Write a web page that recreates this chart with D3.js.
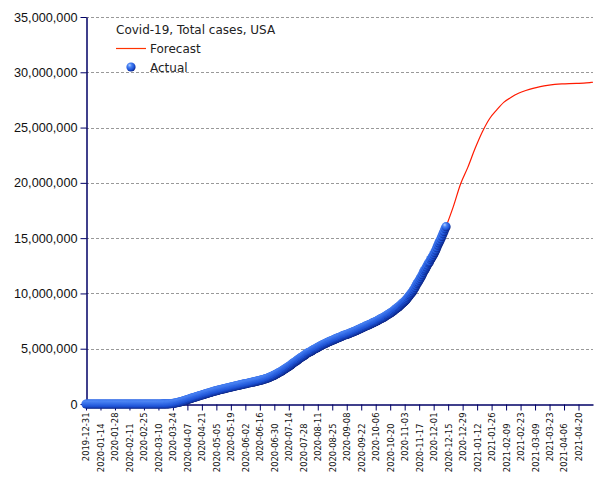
<!DOCTYPE html>
<html>
<head>
<meta charset="utf-8">
<script src="https://cdn.jsdelivr.net/npm/d3@7"></script>
<style>
  html, body { margin: 0; padding: 0; background: #fff; }
  svg { display: block; }
</style>
</head>
<body>
<svg id="chart" width="605" height="480"></svg>
<script>
// ---------------- DATA ----------------
const chartTitle = "Covid-19, Total cases, USA";
const seriesNames = ["Forecast", "Actual"];
const actualStart = "2019-12-31";

// Daily cumulative cases (actual), per month
const cases2019Dec = [0];
const cases2020Jan = [0,0,0,0,0,0,0,0,0,0,0,0,0,0,0,0,0,0,0,0,1,1,1,2,2,5,5,5,5,5,6];
const cases2020Feb = [7,8,11,11,11,12,12,12,12,12,13,13,14,15,15,15,15,15,15,15,35,35,35,53,53,59,60,62,68];
const cases2020Mar = [75,100,124,158,221,319,435,541,704,994,1301,1630,2183,2770,3613,4596,6344,9197,13779,19367,24192,33592,43781,54856,68211,85435,104126,124665,143025,164620,189618];
const cases2020Apr = [216721,245540,277965,312237,337072,366667,396223,429052,461437,496535,526396,555313,580619,607670,636350,667801,699706,732197,759086,784326,811865,840351,869170,905358,938154,965785,988197,1012582,1039909,1069424];
const cases2020May = [1103461,1132539,1158040,1180375,1204351,1228603,1256972,1283929,1309550,1329260,1347881,1369376,1390406,1417774,1442824,1467820,1486757,1508308,1528568,1551853,1577147,1600937,1622612,1643499,1662302,1681212,1699933,1721750,1747087,1770165,1790191];
const cases2020Jun = [1811370,1831821,1851520,1872660,1897838,1920061,1938823,1956421,1973797,1994283,2016027,2039926,2065187,2090175,2107922,2127667,2151958,2178316,2206143,2239176,2265163,2296352,2324153,2362340,2400071,2440435,2482102,2526118,2566268,2606484];
const cases2020Jul = [2658307,2708975,2763382,2819005,2864096,2914434,2967081,3030911,3088938,3158146,3219002,3280054,3339952,3402799,3470033,3537104,3614686,3686302,3750719,3811928,3874174,3943296,4013232,4081536,4153054,4218096,4272887,4330349,4397024,4465465,4534164];
const cases2020Aug = [4601526,4654924,4701345,4750262,4804040,4857935,4918927,4975825,5021155,5068063,5116922,5171325,5223018,5280044,5333329,5376000,5416000,5459000,5506000,5550000,5598000,5642000,5684000,5717000,5756000,5794000,5838000,5884000,5928000,5964000,5998000];
const cases2020Sep = [6035000,6074000,6114000,6163000,6207000,6238000,6265000,6291000,6325000,6361000,6408000,6443000,6479000,6514000,6553000,6592000,6636000,6680000,6727000,6766000,6805000,6856000,6895000,6940000,6986000,7035000,7070000,7107000,7148000,7191000];
const cases2020Oct = [7235000,7283000,7332000,7380000,7416000,7460000,7505000,7555000,7613000,7671000,7718000,7762000,7805000,7856000,7918000,7982000,8051000,8105000,8154000,8215000,8274000,8337000,8413000,8497000,8576000,8636000,8710000,8784000,8863000,8952000,9052000];
const cases2020Nov = [9134000,9211000,9300000,9392000,9493000,9613000,9741000,9868000,9971000,10095000,10231000,10374000,10535000,10717000,10888000,11023000,11181000,11342000,11510000,11694000,11890000,12072000,12209000,12386000,12560000,12741000,12852000,13058000,13213000,13353000];
const cases2020Dec = [13520000,13711000,13912000,14130000,14359000,14572000,14748000,14940000,15160000,15387000,15607000,15839000,16040000];

// Forecast (dates and values)
const forecastDates = ["2020-12-13","2020-12-20","2020-12-27","2021-01-03","2021-01-10","2021-01-17","2021-01-24","2021-01-31","2021-02-07","2021-02-14","2021-02-21","2021-02-28","2021-03-07","2021-03-14","2021-03-21","2021-03-28","2021-04-04","2021-04-11","2021-04-18","2021-04-25","2021-05-02","2021-05-04"];
const forecastValues = [16040000,17850000,19900000,21400000,23100000,24600000,25800000,26600000,27300000,27750000,28100000,28350000,28550000,28700000,28820000,28900000,28950000,28980000,29000000,29020000,29080000,29100000];

// Axis tick labels
const xTickLabels = ["2019-12-31","2020-01-14","2020-01-28","2020-02-11","2020-02-25","2020-03-10","2020-03-24","2020-04-07","2020-04-21","2020-05-05","2020-05-19","2020-06-02","2020-06-16","2020-06-30","2020-07-14","2020-07-28","2020-08-11","2020-08-25","2020-09-08","2020-09-22","2020-10-06","2020-10-20","2020-11-03","2020-11-17","2020-12-01","2020-12-15","2020-12-29","2021-01-12","2021-01-26","2021-02-09","2021-02-23","2021-03-09","2021-03-23","2021-04-06","2021-04-20"];
const yTickValues = [0,5000000,10000000,15000000,20000000,25000000,30000000,35000000];
const xDomain = ["2019-12-31","2021-05-04"];

// ---------------- DRAW ----------------
(function () {
const parse = d3.utcParse("%Y-%m-%d");
const actualValues = [].concat(cases2019Dec, cases2020Jan, cases2020Feb, cases2020Mar, cases2020Apr,
  cases2020May, cases2020Jun, cases2020Jul, cases2020Aug, cases2020Sep, cases2020Oct, cases2020Nov, cases2020Dec);
const start = parse(actualStart);
const actual = actualValues.map((v, i) => ({ date: d3.utcDay.offset(start, i), value: v }));
const forecast = forecastDates.map((d, i) => ({ date: parse(d), value: forecastValues[i] }));

const mLeft = 86, mRight = 593, mTop = 17, mBottom = 404;
const x = d3.scaleUtc().domain(xDomain.map(parse)).range([mLeft, mRight]);
const y = d3.scaleLinear().domain([0, 35000000]).range([mBottom, mTop]);

const svg = d3.select("#chart");
const defs = svg.append("defs");
const grad = defs.append("radialGradient").attr("id", "ball")
  .attr("cx", "38%").attr("cy", "35%").attr("r", "70%").attr("fx", "35%").attr("fy", "30%");
grad.append("stop").attr("offset", "0%").attr("stop-color", "#b4d0ff");
grad.append("stop").attr("offset", "30%").attr("stop-color", "#4a84f5");
grad.append("stop").attr("offset", "70%").attr("stop-color", "#1c52d6");
grad.append("stop").attr("offset", "100%").attr("stop-color", "#071c78");

// gridlines
svg.append("g").selectAll("line").data(yTickValues.filter(v => v > 0)).join("line")
  .attr("x1", mLeft).attr("x2", mRight)
  .attr("y1", d => Math.round(y(d)) + 0.5).attr("y2", d => Math.round(y(d)) + 0.5)
  .attr("stroke", "#999").attr("stroke-width", 1).attr("stroke-dasharray", "3,2");

// forecast line
svg.append("path").datum(forecast)
  .attr("fill", "none").attr("stroke", "#ff1a00").attr("stroke-width", 1.2)
  .attr("d", d3.line().x(d => x(d.date)).y(d => y(d.value)).curve(d3.curveMonotoneX));

// axes
const axisColor = "#000066";
const yAxis = svg.append("g").attr("transform", `translate(${mLeft + 0.5},0)`)
  .call(d3.axisLeft(y).tickValues(yTickValues).tickFormat(d3.format(",")).tickSize(6).tickPadding(3).tickSizeOuter(0));
yAxis.select(".domain").attr("stroke", axisColor).attr("stroke-width", 1.5);
yAxis.selectAll(".tick line").attr("stroke", axisColor);
yAxis.selectAll("text").attr("fill", "#111").style("font-family", "'Liberation Sans', Arial, sans-serif").style("font-size", "12.7px");

const xTicks = xTickLabels.map(parse);
const xAxis = svg.append("g").attr("transform", `translate(0,${mBottom + 0.5})`)
  .call(d3.axisBottom(x).tickValues(xTicks).tickFormat(d3.utcFormat("%Y-%m-%d")).tickSize(6).tickSizeOuter(0));
xAxis.select(".domain").attr("stroke", axisColor).attr("stroke-width", 1.5);
xAxis.selectAll(".tick line").attr("stroke", axisColor);
xAxis.selectAll(".tick text")
  .attr("fill", "#111")
  .style("font-family", "'DejaVu Sans', Verdana, sans-serif").style("font-size", "8.4px")
  .attr("text-anchor", "end")
  .attr("dy", "0.35em").attr("dx", 0)
  .attr("transform", (d, i) => `translate(0,${(i % 2 === 0 ? 8 : 19)}) rotate(-90)`)
  .attr("x", 0).attr("y", 0);

// actual dots
svg.append("g").selectAll("circle").data(actual).join("circle")
  .attr("cx", d => x(d.date)).attr("cy", d => y(d.value))
  .attr("r", 4.6).attr("fill", "url(#ball)");

// legend
const lg = svg.append("g").style("font-family", "'DejaVu Sans', Verdana, sans-serif").style("font-size", "12px").attr("fill", "#222");
lg.append("text").attr("x", 116).attr("y", 34).text(chartTitle);
lg.append("line").attr("x1", 116).attr("x2", 146).attr("y1", 48.5).attr("y2", 48.5).attr("stroke", "#ff3300").attr("stroke-width", 1.2);
lg.append("text").attr("x", 150).attr("y", 53).text(seriesNames[0]);
lg.append("circle").attr("cx", 131).attr("cy", 67).attr("r", 4.6).attr("fill", "url(#ball)");
lg.append("text").attr("x", 150).attr("y", 72).text(seriesNames[1]);
})();
</script>
</body>
</html>
